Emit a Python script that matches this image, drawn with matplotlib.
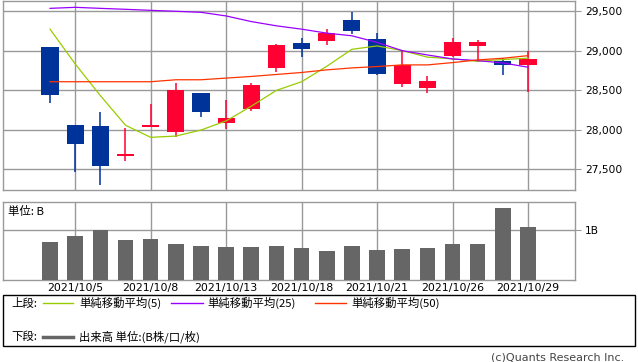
import numpy as np
import matplotlib
matplotlib.use('Agg')
import matplotlib.pyplot as plt
from matplotlib.ticker import FuncFormatter, FixedLocator

plt.rcParams['font.family'] = ['Noto Sans CJK JP', 'DejaVu Sans']

# data
# ---
dates = ['2021/10/4', '2021/10/5', '2021/10/6', '2021/10/7', '2021/10/8',
         '2021/10/11', '2021/10/12', '2021/10/13', '2021/10/14', '2021/10/15',
         '2021/10/18', '2021/10/19', '2021/10/20', '2021/10/21', '2021/10/22',
         '2021/10/25', '2021/10/26', '2021/10/27', '2021/10/28', '2021/10/29']

opens  = [29048, 28057, 28044, 27667, 28031, 27973, 28458, 28086, 28262, 28776,
          29098, 29119, 29387, 29149, 28575, 28525, 28927, 29052, 28872, 28814]
highs  = [29048, 28057, 28220, 28019, 28320, 28584, 28467, 28370, 28584, 29086,
          29153, 29274, 29487, 29224, 28990, 28672, 29161, 29136, 28902, 28998]
lows   = [28337, 27458, 27295, 27609, 28031, 27902, 28161, 28002, 28236, 28726,
          28914, 29065, 29215, 28688, 28538, 28462, 28914, 28851, 28684, 28475]
closes = [28433, 27818, 27534, 27697, 28057, 28496, 28224, 28144, 28559, 29073,
          29015, 29220, 29241, 28701, 28818, 28609, 29111, 29103, 28814, 28897]

ma5  = [29270, 28830, 28430, 28055, 27902, 27918, 27994, 28110, 28295, 28496,
        28605, 28800, 29015, 29058, 28999, 28916, 28895, 28863, 28886, 28903]
ma25 = [29533, 29546, 29533, 29521, 29508, 29496, 29483, 29437, 29366, 29312,
        29270, 29220, 29186, 29103, 28998, 28944, 28893, 28872, 28843, 28789]
ma50 = [28605, 28605, 28605, 28605, 28605, 28630, 28630, 28651, 28672, 28697,
        28722, 28755, 28780, 28797, 28818, 28818, 28847, 28881, 28902, 28935]

volume = [0.765, 0.88, 1.0, 0.80, 0.82, 0.725, 0.67, 0.65, 0.65, 0.67,
          0.63, 0.57, 0.667, 0.59, 0.61, 0.63, 0.725, 0.706, 1.43, 1.06]

label_idx = [1, 4, 7, 10, 13, 16, 19]

# styles
# ---
c_up, c_dn = '#ff0033', '#003399'
c_grid = '#999999'
c_ma5, c_ma25, c_ma50 = '#99cc00', '#9900ff', '#ff3300'
fs = 8.2          # japanese text
fs_num = 7.7      # tick labels

W, H = 638, 362
fig = plt.figure(figsize=(W / 100, H / 100), dpi=100)

def px_axes(x0, y0, x1, y1):
    return fig.add_axes([x0 / W, 1 - y1 / H, (x1 - x0) / W, (y1 - y0) / H])

ax = px_axes(3, 1, 575, 190)
axv = px_axes(3, 202, 575, 280)

x = np.arange(len(dates))
xlim = (-1.87, 20.87)

# candles
# ---
colours = [c_up if c >= o else c_dn for o, c in zip(opens, closes)]
bottoms = [min(o, c) for o, c in zip(opens, closes)]
heights = [max(abs(c - o), 12) for o, c in zip(opens, closes)]
ax.vlines(x, lows, highs, colors=colours, lw=1.1, zorder=3)
ax.bar(x, heights, bottom=bottoms, width=0.68, color=colours, zorder=4)

ax.plot(x, ma5, color=c_ma5, lw=0.9, zorder=5)
ax.plot(x, ma25, color=c_ma25, lw=0.9, zorder=5)
ax.plot(x, ma50, color=c_ma50, lw=0.9, zorder=5)

ax.set_xlim(*xlim)
ax.set_ylim(27236, 29626)
ax.yaxis.set_major_locator(FixedLocator([27500, 28000, 28500, 29000, 29500]))
ax.yaxis.set_major_formatter(FuncFormatter(lambda v, p: f'{int(v):,}'))

# volume
# ---
axv.bar(x, volume, width=0.62, color='#666666', zorder=3)
axv.set_xlim(*xlim)
axv.set_ylim(0, 1.55)
axv.yaxis.set_major_locator(FixedLocator([1.0]))
axv.yaxis.set_major_formatter(FuncFormatter(lambda v, p: '1B'))
axv.text(5 / 572, 0.88, '単位: B', transform=axv.transAxes, fontsize=fs,
         ha='left', va='center')

for a in (ax, axv):
    a.xaxis.set_major_locator(FixedLocator(label_idx))
    a.grid(True, color=c_grid, lw=1.0, zorder=0)
    a.set_axisbelow(True)
    for s in a.spines.values():
        s.set_color(c_grid)
        s.set_linewidth(1.0)
    a.yaxis.tick_right()
    a.tick_params(axis='y', length=4, color=c_grid, pad=3)
    a.tick_params(axis='x', length=0)
    for t in a.get_yticklabels():
        t.set_family('DejaVu Sans')
        t.set_fontsize(fs_num)

ax.set_xticklabels([])
axv.set_xticklabels([dates[i] for i in label_idx], family='DejaVu Sans',
                    fontsize=7.9)
axv.tick_params(axis='x', pad=2.5)

# legend box
# ---
fig.patches.append(plt.Rectangle((3 / W, 1 - 346 / H), 632 / W, 51 / H,
                                 transform=fig.transFigure, fill=False,
                                 edgecolor='black', lw=1.0))

def fx(px):
    return px / W

def fy(py):
    return 1 - py / H

y1, y2 = 303, 337
fig.text(fx(11), fy(y1), '上段:', fontsize=fs, va='center')
fig.text(fx(11), fy(y2), '下段:', fontsize=fs, va='center')

legend_items = [(43, 73, 79, c_ma5, '単純移動平均(5)'),
                (171, 203, 207, c_ma25, '単純移動平均(25)'),
                (315, 346, 351, c_ma50, '単純移動平均(50)')]
for x0, x1, xt, col, txt in legend_items:
    fig.add_artist(plt.Line2D([fx(x0), fx(x1)], [fy(y1), fy(y1)], color=col,
                              lw=1.0, transform=fig.transFigure))
    fig.text(fx(xt), fy(y1), txt, fontsize=fs, va='center')

fig.add_artist(plt.Line2D([fx(43), fx(73)], [fy(y2), fy(y2)], color='#666666',
                          lw=2.5, transform=fig.transFigure))
fig.text(fx(79), fy(y2), '出来高 単位:(B株/口/枚)', fontsize=fs, va='center')

fig.text(fx(624), fy(357), '(c)Quants Research Inc.', fontsize=8.0,
         family='DejaVu Sans', ha='right', va='center', color='#444444')

fig.savefig('out.png', dpi=100)
